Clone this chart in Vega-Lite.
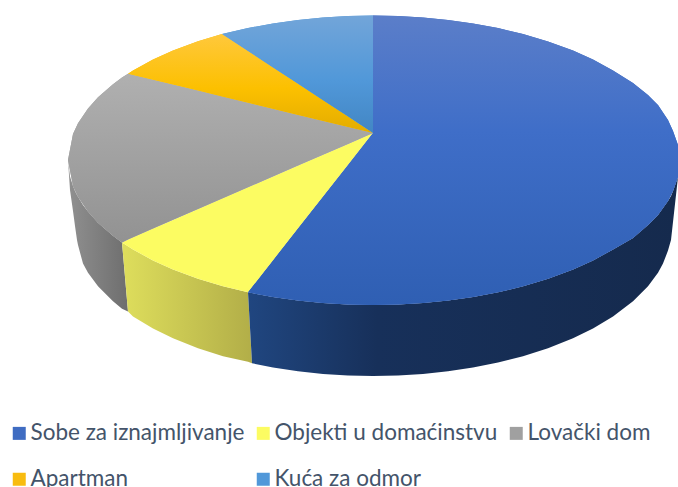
{"$schema":"https://vega.github.io/schema/vega-lite/v6.json","width":678,"height":487,"padding":0,"autosize":{"type":"none"},"background":"white","config":{"view":{"stroke":null}},
"datasets":{"wall":[
{"s":"g","x":68,"y":160,"y2":160},{"s":"g","x":70,"y":176.6,"y2":190},{"s":"g","x":73,"y":186.1,"y2":211},{"s":"g","x":75,"y":190.9,"y2":226},{"s":"g","x":77,"y":195,"y2":240},{"s":"g","x":78,"y":196.8,"y2":245},{"s":"g","x":83,"y":204.9,"y2":263.6},{"s":"g","x":88,"y":211.6,"y2":272.7},{"s":"g","x":98,"y":222.7,"y2":286.2},{"s":"g","x":113,"y":235.8,"y2":301.3},{"s":"g","x":122,"y":242.4,"y2":308.7},{"s":"g","x":128,"y":311.5,"y2":311.5},
{"s":"y","x":122,"y":242.4,"y2":242.4},{"s":"y","x":128,"y":246.3,"y2":311.5},{"s":"y","x":133,"y":249.5,"y2":316.5},{"s":"y","x":153,"y":260.4,"y2":328.5},{"s":"y","x":173,"y":269.5,"y2":338.2},{"s":"y","x":198,"y":278.8,"y2":348.2},{"s":"y","x":223,"y":286.3,"y2":356.2},{"s":"y","x":248,"y":292.3,"y2":361.8},{"s":"y","x":252,"y":363.3,"y2":363.3},
{"s":"b","x":248,"y":292.3,"y2":292.3},{"s":"b","x":252,"y":293,"y2":363.3},{"s":"b","x":273,"y":297,"y2":367.5},{"s":"b","x":298,"y":300.5,"y2":371.3},{"s":"b","x":323,"y":303,"y2":373.9},{"s":"b","x":348,"y":304.5,"y2":375.5},{"s":"b","x":373,"y":305,"y2":376},{"s":"b","x":398,"y":304.5,"y2":375.5},{"s":"b","x":423,"y":303,"y2":373.9},{"s":"b","x":448,"y":300.5,"y2":371.3},{"s":"b","x":473,"y":297,"y2":367.5},{"s":"b","x":498,"y":292.3,"y2":362.5},{"s":"b","x":523,"y":286.3,"y2":356.2},{"s":"b","x":548,"y":278.8,"y2":348.2},{"s":"b","x":573,"y":269.5,"y2":338.2},{"s":"b","x":593,"y":260.4,"y2":328.5},{"s":"b","x":613,"y":249.5,"y2":316.5},{"s":"b","x":633,"y":238,"y2":301.3},{"s":"b","x":648,"y":225,"y2":286.2},{"s":"b","x":658,"y":215,"y2":272.7},{"s":"b","x":663,"y":208,"y2":263.6},{"s":"b","x":668,"y":201,"y2":250.6},{"s":"b","x":671,"y":196,"y2":240},{"s":"b","x":673,"y":191,"y2":222},{"s":"b","x":678,"y":177,"y2":177}],
"top":[
{"s":"Sobe za iznajmljivanje","x":248,"y":292.3,"y2":292.3},{"s":"Sobe za iznajmljivanje","x":273,"y":260.4,"y2":297},{"s":"Sobe za iznajmljivanje","x":298,"y":228.6,"y2":300.5},{"s":"Sobe za iznajmljivanje","x":323,"y":196.7,"y2":303},{"s":"Sobe za iznajmljivanje","x":348,"y":164.9,"y2":304.5},{"s":"Sobe za iznajmljivanje","x":373,"y":133,"y2":305},{"s":"Sobe za iznajmljivanje","x":373,"y":15.5,"y2":305},{"s":"Sobe za iznajmljivanje","x":398,"y":16,"y2":304.5},{"s":"Sobe za iznajmljivanje","x":423,"y":17.5,"y2":303},{"s":"Sobe za iznajmljivanje","x":448,"y":20,"y2":300.5},{"s":"Sobe za iznajmljivanje","x":473,"y":23.5,"y2":297},{"s":"Sobe za iznajmljivanje","x":498,"y":28,"y2":292.3},{"s":"Sobe za iznajmljivanje","x":523,"y":34,"y2":286.3},{"s":"Sobe za iznajmljivanje","x":548,"y":41.5,"y2":278.8},{"s":"Sobe za iznajmljivanje","x":573,"y":50.5,"y2":269.5},{"s":"Sobe za iznajmljivanje","x":593,"y":59.6,"y2":260.4},{"s":"Sobe za iznajmljivanje","x":613,"y":70.5,"y2":249.5},{"s":"Sobe za iznajmljivanje","x":633,"y":83,"y2":238},{"s":"Sobe za iznajmljivanje","x":648,"y":95,"y2":225},{"s":"Sobe za iznajmljivanje","x":658,"y":105,"y2":215},{"s":"Sobe za iznajmljivanje","x":668,"y":120,"y2":201},{"s":"Sobe za iznajmljivanje","x":673,"y":131,"y2":191},{"s":"Sobe za iznajmljivanje","x":678,"y":145,"y2":177},
{"s":"Objekti u domaćinstvu","x":122,"y":242.4,"y2":242.4},{"s":"Objekti u domaćinstvu","x":133,"y":237.2,"y2":249.5},{"s":"Objekti u domaćinstvu","x":153,"y":228.5,"y2":260.4},{"s":"Objekti u domaćinstvu","x":173,"y":219.9,"y2":269.5},{"s":"Objekti u domaćinstvu","x":198,"y":209,"y2":278.8},{"s":"Objekti u domaćinstvu","x":223,"y":198.1,"y2":286.3},{"s":"Objekti u domaćinstvu","x":248,"y":187.3,"y2":292.3},{"s":"Objekti u domaćinstvu","x":273,"y":176.4,"y2":260.4},{"s":"Objekti u domaćinstvu","x":298,"y":165.6,"y2":228.6},{"s":"Objekti u domaćinstvu","x":323,"y":154.7,"y2":196.7},{"s":"Objekti u domaćinstvu","x":348,"y":143.9,"y2":164.9},{"s":"Objekti u domaćinstvu","x":373,"y":133,"y2":133},
{"s":"Lovački dom","x":68,"y":160,"y2":160},{"s":"Lovački dom","x":73,"y":133.9,"y2":186.1},{"s":"Lovački dom","x":78,"y":123.2,"y2":196.8},{"s":"Lovački dom","x":88,"y":108.4,"y2":211.6},{"s":"Lovački dom","x":98,"y":97.3,"y2":222.7},{"s":"Lovački dom","x":113,"y":84.2,"y2":235.8},{"s":"Lovački dom","x":122,"y":77.6,"y2":242.4},{"s":"Lovački dom","x":128,"y":73.7,"y2":239.4},{"s":"Lovački dom","x":153,"y":79.8,"y2":228.5},{"s":"Lovački dom","x":198,"y":90.6,"y2":209},{"s":"Lovački dom","x":248,"y":102.8,"y2":187.3},{"s":"Lovački dom","x":298,"y":114.9,"y2":165.6},{"s":"Lovački dom","x":348,"y":127,"y2":143.9},{"s":"Lovački dom","x":373,"y":133,"y2":133},
{"s":"Apartman","x":128,"y":73.7,"y2":73.7},{"s":"Apartman","x":133,"y":70.5,"y2":74.9},{"s":"Apartman","x":153,"y":59.6,"y2":79.8},{"s":"Apartman","x":173,"y":50.5,"y2":84.6},{"s":"Apartman","x":198,"y":41.2,"y2":90.6},{"s":"Apartman","x":222,"y":34,"y2":96.5},{"s":"Apartman","x":248,"y":51,"y2":102.8},{"s":"Apartman","x":298,"y":83.8,"y2":114.9},{"s":"Apartman","x":348,"y":116.6,"y2":127},{"s":"Apartman","x":373,"y":133,"y2":133},
{"s":"Kuća za odmor","x":222,"y":34,"y2":34},{"s":"Kuća za odmor","x":248,"y":28,"y2":51},{"s":"Kuća za odmor","x":273,"y":23.5,"y2":67.4},{"s":"Kuća za odmor","x":298,"y":20,"y2":83.8},{"s":"Kuća za odmor","x":323,"y":17.5,"y2":100.2},{"s":"Kuća za odmor","x":348,"y":16,"y2":116.6},{"s":"Kuća za odmor","x":373,"y":15.5,"y2":133}]},
"encoding":{"x":{"field":"x","type":"quantitative","axis":null,"scale":{"domain":[0,678],"nice":false,"zero":false}},"y":{"field":"y","type":"quantitative","axis":null,"scale":{"domain":[487,0],"nice":false,"zero":false}},"y2":{"field":"y2"}},
"layer":[
{"data":{"name":"wall"},"transform":[{"filter":"datum.s==='g'"}],"mark":{"type":"area","fill":{"gradient":"linear","x1":0,"y1":0,"x2":1,"y2":0,"stops":[{"offset":0,"color":"#909090"},{"offset":1,"color":"#6e6e6e"}]}}},
{"data":{"name":"wall"},"transform":[{"filter":"datum.s==='y'"}],"mark":{"type":"area","fill":{"gradient":"linear","x1":0,"y1":0,"x2":1,"y2":0,"stops":[{"offset":0,"color":"#dede5c"},{"offset":1,"color":"#b2ae48"}]}}},
{"data":{"name":"wall"},"transform":[{"filter":"datum.s==='b'"}],"mark":{"type":"area","fill":{"gradient":"linear","x1":0,"y1":0,"x2":1,"y2":0,"stops":[{"offset":0,"color":"#204680"},{"offset":0.3,"color":"#17305a"},{"offset":1,"color":"#152a4d"}]}}},
{"data":{"name":"top"},"mark":{"type":"area"},"encoding":{"color":{"field":"s","type":"nominal","scale":{"domain":["Sobe za iznajmljivanje","Apartman","Objekti u domaćinstvu","Kuća za odmor","Lovački dom"],"range":["#3f6cc2","#f8bc10","#fcfc62","#5198d9","#a0a0a0"]},
"legend":{"orient":"none","legendX":8,"legendY":422,"columns":3,"title":null,"symbolType":"square","symbolSize":169,"symbolStrokeWidth":0,"labelFont":"Lato","labelFontSize":22.5,"labelColor":"#44546a","labelOffset":0,"labelLimit":400,"columnPadding":7,"rowPadding":23,"padding":0}}}},
{"data":{"name":"top"},"transform":[{"filter":"datum.s==='Sobe za iznajmljivanje'"}],"mark":{"type":"area","fill":{"gradient":"linear","x1":0,"y1":0,"x2":0,"y2":1,"stops":[{"offset":0,"color":"#5b7ec9"},{"offset":0.4,"color":"#3f6ec8"},{"offset":1,"color":"#2f5fb3"}]}}},
{"data":{"name":"top"},"transform":[{"filter":"datum.s==='Lovački dom'"}],"mark":{"type":"area","fill":{"gradient":"linear","x1":0,"y1":0,"x2":0,"y2":1,"stops":[{"offset":0,"color":"#b0b0b0"},{"offset":1,"color":"#929292"}]}}},
{"data":{"name":"top"},"transform":[{"filter":"datum.s==='Apartman'"}],"mark":{"type":"area","fill":{"gradient":"linear","x1":0,"y1":0,"x2":0,"y2":1,"stops":[{"offset":0,"color":"#ffc83c"},{"offset":0.55,"color":"#fcc000"},{"offset":1,"color":"#e3ac00"}]}}},
{"data":{"name":"top"},"transform":[{"filter":"datum.s==='Kuća za odmor'"}],"mark":{"type":"area","fill":{"gradient":"linear","x1":0,"y1":0,"x2":0,"y2":1,"stops":[{"offset":0,"color":"#72a5d9"},{"offset":0.55,"color":"#5198d9"},{"offset":1,"color":"#4286c4"}]}}}
]}
